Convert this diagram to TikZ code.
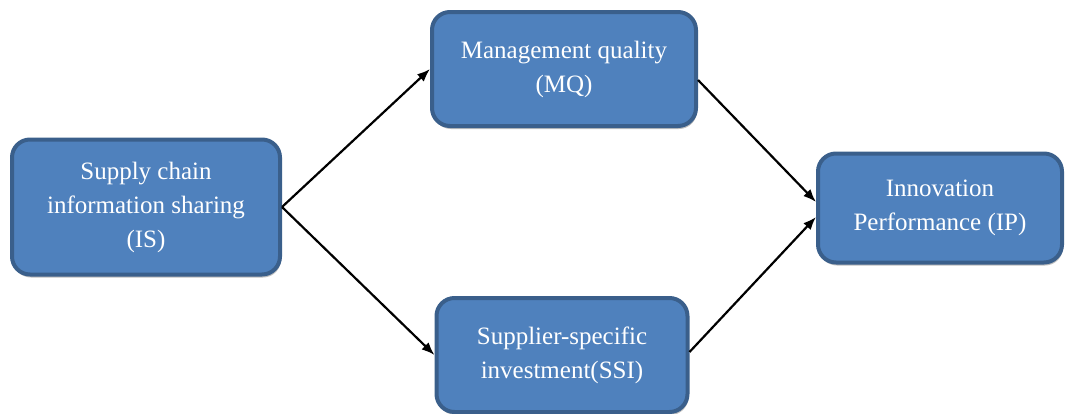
\documentclass[tikz,border=0pt]{standalone}
\usepackage{fontspec}
\setmainfont{Liberation Serif}
\usetikzlibrary{positioning,arrows.meta,shadows}
\definecolor{boxfill}{HTML}{4F81BD}
\definecolor{boxline}{HTML}{3A5F8B}
\tikzset{
 box/.style
  = {rectangle, draw=boxline, fill=boxfill, line width=4pt, rounded corners=18pt,
     text=white, align=center, font=\fontsize{25}{34}\selectfont,
     drop shadow={shadow xshift=1pt, shadow yshift=-3pt, opacity=0.25, fill=black}},
 l/.style
  = {draw, -{Latex[length=13pt,width=10pt]}, line width=2.2pt},
}
\begin{document}
\begin{tikzpicture}[x=1pt,y=-1pt]
\useasboundingbox (0,0) rectangle (1065,413);

% Information sharing
\node[box, minimum width=268pt, minimum height=135pt] (IS) at (146,207)
  {Supply chain\\information sharing\\(IS)};

% Management quality
\node[box, minimum width=264pt, minimum height=114pt] (MQ) at (564,69)
  {Management quality\\(MQ)};

% Supplier-specific investment
\node[box, minimum width=251pt, minimum height=114pt] (SSI) at (562,355)
  {Supplier-specific\\investment(SSI)};

% Innovation performance
\node[box, minimum width=244pt, minimum height=109pt] (IP) at (940,208)
  {Innovation\\Performance (IP)};

% Paths
\draw[l] (IS.east) -- (MQ.west);
\draw[l] (IS.east) -- (SSI.west);
\draw[l] ([yshift=-11pt]MQ.east) -- ([yshift=6pt]IP.west);
\draw[l] ([yshift=3pt]SSI.east) -- ([yshift=-9pt]IP.west);

\end{tikzpicture}
\end{document}
